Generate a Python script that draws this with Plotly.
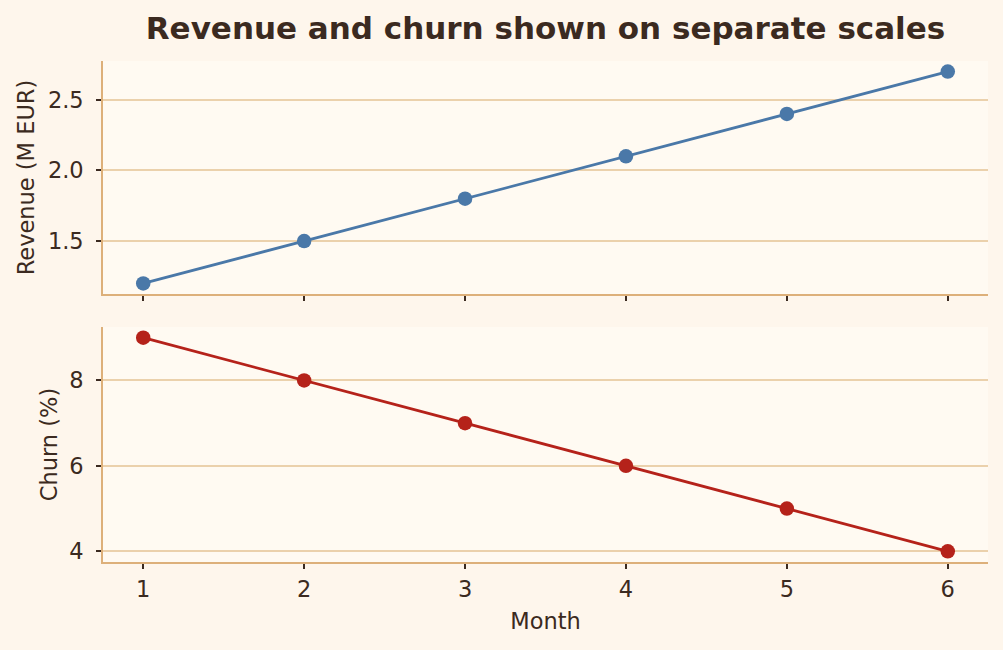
import plotly.graph_objects as go
from plotly.subplots import make_subplots

months = [1, 2, 3, 4, 5, 6]
revenue = [1.2, 1.5, 1.8, 2.1, 2.4, 2.7]
churn = [9, 8, 7, 6, 5, 4]

TEXT = "#3B2A20"
GRID = "#EBD1AC"
SPINE = "#DDB07A"
PAPER = "#FEF6EC"
PLOT = "#FFFAF2"
BLUE = "#4A78A8"
RED = "#B5221A"
FONT = "DejaVu Sans"
FS = 22.5

fig = make_subplots(rows=2, cols=1, shared_xaxes=False, vertical_spacing=0.0)

fig.add_trace(go.Scatter(x=months, y=revenue, mode="lines+markers",
                         line=dict(color=BLUE, width=2.8),
                         marker=dict(color=BLUE, size=14.5),
                         showlegend=False, hoverinfo="skip"), row=1, col=1)
fig.add_trace(go.Scatter(x=months, y=churn, mode="lines+markers",
                         line=dict(color=RED, width=2.8),
                         marker=dict(color=RED, size=14.5),
                         showlegend=False, hoverinfo="skip"), row=2, col=1)

common_x = dict(range=[0.75, 6.25], tickmode="array", tickvals=months,
                showgrid=False, zeroline=False, showline=True, linecolor=SPINE,
                linewidth=1.6, ticks="outside", ticklen=5, tickwidth=1.6,
                tickcolor=TEXT, ticklabelstandoff=1,
                tickfont=dict(family=FONT, size=FS, color=TEXT))
common_y = dict(showgrid=True, gridcolor=GRID, gridwidth=1.5, zeroline=False,
                showline=True, linecolor=SPINE, linewidth=1.6, ticks="outside",
                ticklen=5, tickwidth=1.6, tickcolor=TEXT, ticklabelstandoff=8,
                tickfont=dict(family=FONT, size=FS, color=TEXT))

fig.update_layout(
    width=1003, height=650,
    paper_bgcolor=PAPER, plot_bgcolor=PLOT,
    margin=dict(l=103, r=15, t=61, b=88, autoexpand=False),
    title=dict(text="<b>Revenue and churn shown on separate scales</b>",
               x=(103 + 988) / 2 / 1003, xanchor="center", y=1 - 28 / 650, yanchor="middle",
               font=dict(family=FONT, size=31, color=TEXT)),
    xaxis=dict(common_x, domain=[0, 1], showticklabels=False, anchor="y"),
    xaxis2=dict(common_x, domain=[0, 1], anchor="y2",
                title=dict(text="Month", standoff=12,
                           font=dict(family=FONT, size=FS, color=TEXT))),
    yaxis=dict(common_y, domain=[268 / 501, 1], range=[1.125, 2.775],
               tickvals=[1.5, 2.0, 2.5], ticktext=["1.5", "2.0", "2.5"],
               title=dict(text="Revenue (M EUR)", standoff=7,
                          font=dict(family=FONT, size=FS, color=TEXT))),
    yaxis2=dict(common_y, domain=[0, 235 / 501], range=[3.75, 9.25],
                tickvals=[4, 6, 8],
                title=dict(text="Churn (%)", standoff=5,
                           font=dict(family=FONT, size=FS, color=TEXT))),
)

fig.write_html("out.html")
